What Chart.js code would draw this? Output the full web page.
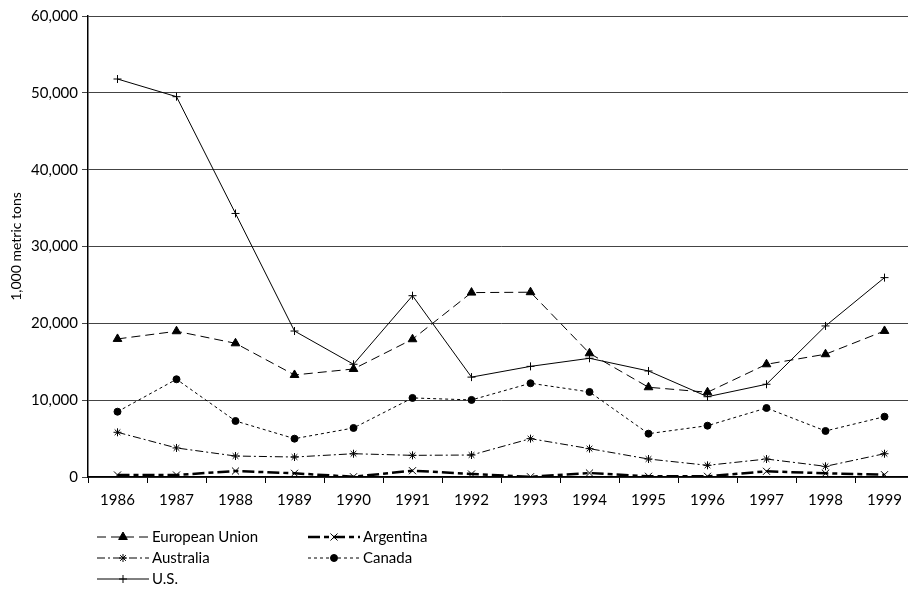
<!DOCTYPE html>
<html>
<head>
<meta charset="utf-8">
<script src="https://cdn.jsdelivr.net/npm/chart.js@4.4.1/dist/chart.umd.min.js"></script>
<style>
  html, body { margin: 0; padding: 0; background: #fff; overflow: hidden; }
  #wrap { width: 920px; height: 589px; }
</style>
</head>
<body>
<div id="wrap"><canvas id="grafico" width="920" height="589"></canvas></div>
<script>
// Anos (eixo x)
const years = ["1986", "1987", "1988", "1989", "1990", "1991", "1992", "1993", "1994", "1995", "1996", "1997", "1998", "1999"];

// Valores em 1,000 metric tons
const europeanUnion = [17970, 18970, 17400, 13280, 14060, 17930, 24000, 24050, 16100, 11680, 11030, 14670, 15980, 19010];
const argentina = [260, 260, 780, 480, 30, 820, 390, 30, 520, 90, 90, 740, 480, 300];
const australia = [5820, 3780, 2730, 2600, 3030, 2820, 2860, 4990, 3690, 2340, 1520, 2340, 1390, 3030];
const canada = [8500, 12720, 7290, 4990, 6380, 10290, 10030, 12200, 11070, 5640, 6680, 8980, 5990, 7850];
const us = [51800, 49500, 34300, 19000, 14670, 23600, 13000, 14400, 15450, 13800, 10450, 12070, 19660, 25950];

const yTicks = [0, 10000, 20000, 30000, 40000, 50000, 60000];

const fontFamily = "Lato, 'Open Sans', sans-serif";

function serie(label, data, dash, width, style, radius) {
  return {
    label: label,
    data: data,
    borderColor: "#000",
    backgroundColor: "#000",
    borderWidth: width,
    borderDash: dash,
    pointStyle: style,
    pointRadius: radius,
    pointBackgroundColor: "#000",
    pointBorderColor: "#000",
    pointBorderWidth: 1,
    fill: false,
    tension: 0,
  };
}

// Legenda desenhada no canvas em duas colunas (como no original)
const legendaPlugin = {
  id: "legenda",
  afterDraw(chart) {
    const ctx = chart.ctx;
    const slots = [
      { x: 97, y: 537 },
      { x: 308, y: 537 },
      { x: 97, y: 558 },
      { x: 308, y: 558 },
      { x: 97, y: 579 },
    ];
    chart.data.datasets.forEach((ds, i) => {
      const s = slots[i];
      ctx.save();
      ctx.strokeStyle = "#000";
      ctx.fillStyle = "#000";
      ctx.lineWidth = ds.borderWidth;
      ctx.setLineDash(ds.borderDash || []);
      ctx.beginPath();
      ctx.moveTo(s.x, s.y);
      ctx.lineTo(s.x + 52, s.y);
      ctx.stroke();
      ctx.setLineDash([]);
      ctx.lineWidth = 1;
      Chart.helpers.drawPoint(ctx, { pointStyle: ds.pointStyle, radius: ds.pointRadius, borderWidth: 1, rotation: 0 }, s.x + 26, s.y);
      ctx.font = "15px " + fontFamily;
      ctx.textBaseline = "middle";
      ctx.textAlign = "left";
      ctx.fillText(ds.label, s.x + 55, s.y);
      ctx.restore();
    });
  },
};

new Chart(document.getElementById("grafico"), {
  type: "line",
  data: {
    labels: years,
    datasets: [
      serie("European Union", europeanUnion, [9, 5], 1, "triangle", 5),
      serie("Argentina", argentina, [12, 4, 5, 4], 2.5, "crossRot", 5),
      serie("Australia", australia, [8, 3, 2, 3], 1, "star", 4),
      serie("Canada", canada, [3, 3], 1, "circle", 3.5),
      serie("U.S.", us, [], 1, "cross", 4),
    ],
  },
  options: {
    responsive: false,
    animation: false,
    layout: { padding: { top: 16, right: 4, left: 0, bottom: 0 } },
    plugins: {
      legend: { display: false },
      tooltip: { enabled: false },
    },
    scales: {
      x: {
        offset: true,
        grid: { offset: true, drawOnChartArea: false, drawTicks: true, tickLength: 6, color: "#000" },
        border: { display: true, color: "#000", width: 1.5 },
        ticks: { color: "#000", font: { family: fontFamily, size: 15 }, padding: 8, maxRotation: 0 },
        afterFit(scale) { scale.height = 112; },
      },
      y: {
        min: 0,
        max: 60000,
        afterBuildTicks(scale) { scale.ticks = yTicks.map((v) => ({ value: v })); },
        grid: { color: "#444", lineWidth: 1, drawTicks: true, tickLength: 6 },
        border: { display: true, color: "#000", width: 1.5 },
        ticks: {
          color: "#000",
          font: { family: fontFamily, size: 15 },
          padding: 4,
          callback: (v) => v.toLocaleString("en-US"),
        },
        title: { display: true, text: "1,000 metric tons", color: "#000", font: { family: fontFamily, size: 14 }, padding: { top: 8, bottom: 0 } },
        afterFit(scale) { scale.width = 88; },
      },
    },
  },
  plugins: [legendaPlugin],
});
</script>
</body>
</html>
